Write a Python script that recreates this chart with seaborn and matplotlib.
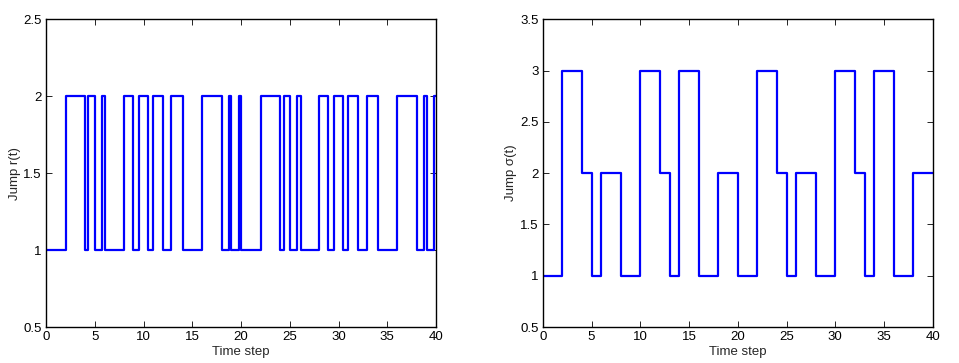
import matplotlib
matplotlib.use("Agg")
import matplotlib.pyplot as plt
import seaborn as sns
import pandas as pd
from matplotlib.ticker import FuncFormatter

# Left chart: jump process r(t), switch times and values held after each switch
r_times = [0, 2, 4, 4.3, 5, 5.7, 6, 8, 8.95, 9.5, 10.45, 11, 12, 12.85, 14, 16, 18,
           18.75, 19, 19.75, 20, 22, 24, 24.4, 25, 25.75, 26.1, 28, 28.95, 29.55,
           30.45, 31, 32, 32.9, 34, 36, 38, 38.75, 39.1, 39.8, 40]
r_values = [1, 2, 1, 2, 1, 2, 1, 2, 1, 2, 1, 2, 1, 2, 1, 2, 1,
            2, 1, 2, 1, 2, 1, 2, 1, 2, 1, 2, 1, 2,
            1, 2, 1, 2, 1, 2, 1, 2, 1, 2, 2]

# Right chart: jump process sigma(t)
s_times = [0, 2, 4, 5, 6, 8, 10, 12, 13, 14, 16, 18, 20, 22, 24, 25, 26, 28, 30,
           32, 33, 34, 36, 38, 40]
s_values = [1, 3, 2, 1, 2, 1, 3, 2, 1, 3, 1, 2, 1, 3, 2, 1, 2, 1, 3,
            2, 1, 3, 1, 2, 2]

x_ticks = [0, 5, 10, 15, 20, 25, 30, 35, 40]
r_yticks = [0.5, 1, 1.5, 2, 2.5]
s_yticks = [0.5, 1, 1.5, 2, 2.5, 3, 3.5]

sns.set_theme(style="white")
plt.rcParams["font.family"] = ["Liberation Sans", "DejaVu Sans"]

fig = plt.figure(figsize=(9.59, 3.63), dpi=100)
ax1 = fig.add_axes([0.048, 0.099, 0.4067, 0.848])
ax2 = fig.add_axes([0.566, 0.099, 0.4067, 0.848])

fmt = FuncFormatter(lambda v, p: "%g" % v)

for ax, t, v, yt, ylab in [
    (ax1, r_times, r_values, r_yticks, "Jump r(t)"),
    (ax2, s_times, s_values, s_yticks, "Jump σ(t)"),
]:
    df = pd.DataFrame({"t": t, "v": v})
    sns.lineplot(data=df, x="t", y="v", ax=ax, drawstyle="steps-post",
                 color="#0000ff", linewidth=1.6, sort=False)
    ax.set_xlim(0, 40)
    ax.set_ylim(yt[0], yt[-1])
    ax.set_xticks(x_ticks)
    ax.set_yticks(yt)
    ax.yaxis.set_major_formatter(fmt)
    ax.xaxis.set_major_formatter(fmt)
    ax.set_xlabel("Time step", fontsize=9.5, labelpad=2)
    ax.set_ylabel(ylab, fontsize=9.5, labelpad=2)
    ax.tick_params(direction="in", length=4, width=0.6, labelsize=9.5,
                   top=True, right=True, bottom=True, left=True, pad=3,
                   colors="black")
    for s in ax.spines.values():
        s.set_color("black")
        s.set_linewidth(1.0)
        s.set_visible(True)

fig.savefig("out.png", dpi=100, facecolor="white")
